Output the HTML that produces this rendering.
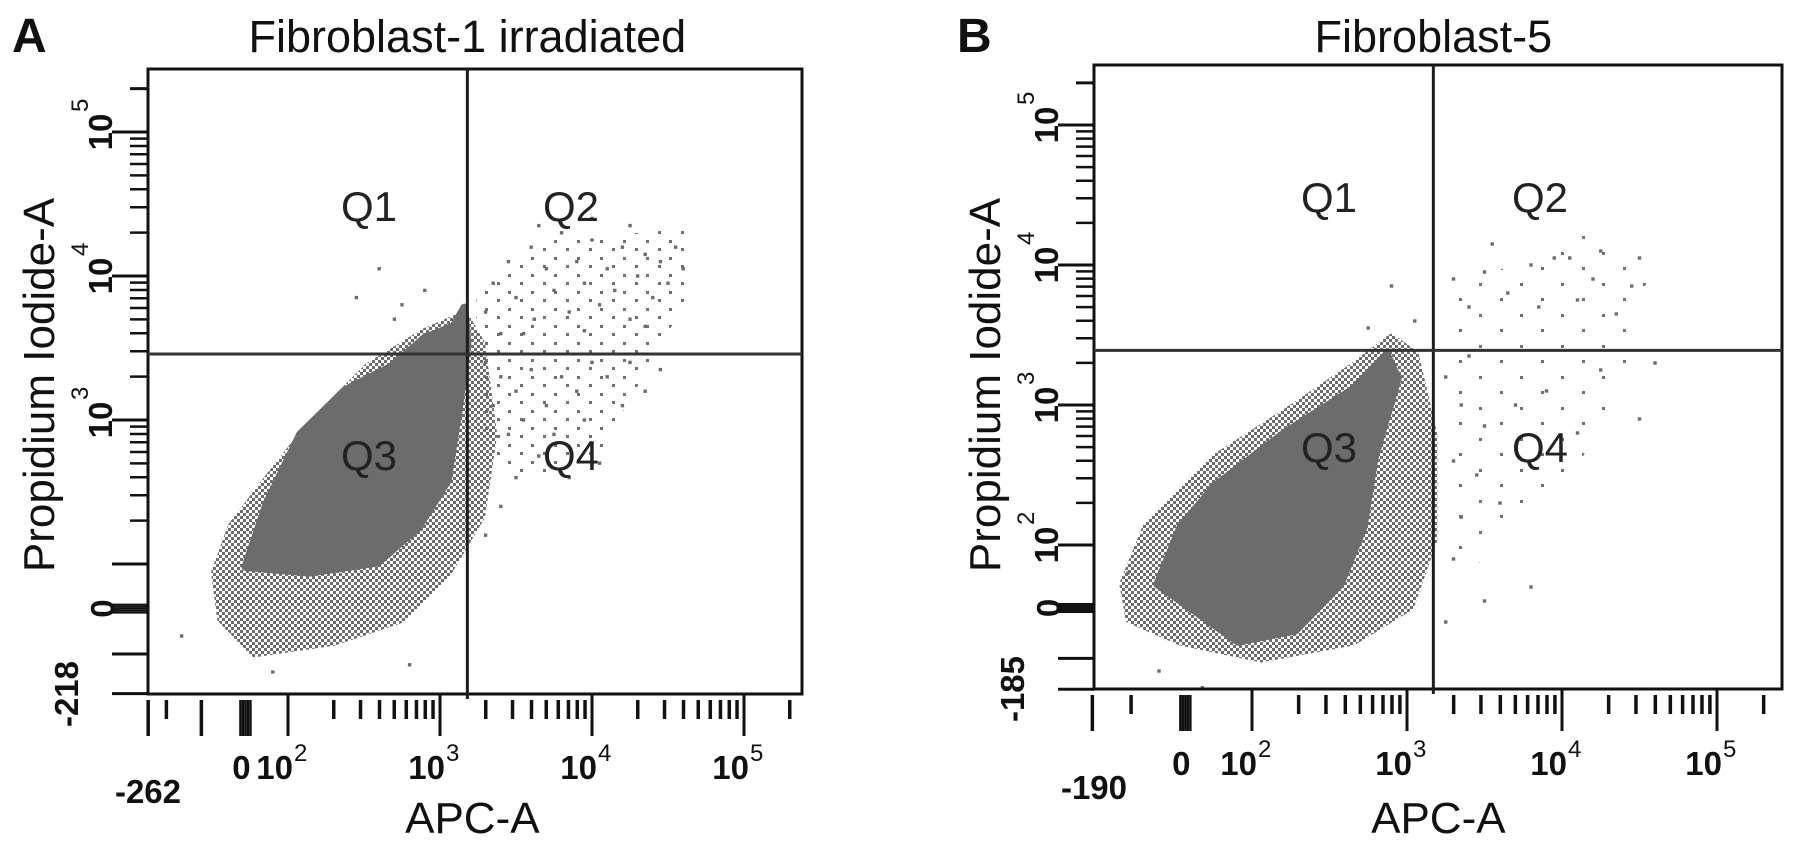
<!DOCTYPE html>
<html><head><meta charset="utf-8"><title>Flow cytometry: Fibroblast-1 irradiated vs Fibroblast-5</title>
<style>
html,body{margin:0;padding:0;background:#fff;}
svg{display:block;font-family:"Liberation Sans",Arial,sans-serif;}
</style></head>
<body>
<svg id="fig" width="1795" height="846" viewBox="0 0 1795 846" xmlns="http://www.w3.org/2000/svg">
<defs>
<pattern id="speck" width="6" height="6" patternUnits="userSpaceOnUse">
<rect x="0" y="0" width="3" height="3" fill="#6c6c6c"/>
<rect x="3" y="3" width="3" height="3" fill="#6c6c6c"/>
</pattern>
<pattern id="sparseA" width="23" height="17" patternUnits="userSpaceOnUse">
<rect x="2" y="2" width="3" height="3" fill="#707070"/>
<rect x="14" y="10" width="3" height="3" fill="#707070"/>
</pattern>
<pattern id="sparseB" width="41" height="31" patternUnits="userSpaceOnUse">
<rect x="3" y="4" width="3" height="3" fill="#707070"/>
<rect x="24" y="19" width="3" height="3" fill="#707070"/>
</pattern>
</defs>
</svg>
<script>
// ---------- Panel A data (log10 decade units) ----------
const A_coreX = [1.72,1.86,2.08,2.38,2.68,2.90,3.09,3.16,3.18,3.12,3.05,2.86,2.59,2.14];
const A_coreY = [1.98,2.42,2.90,3.21,3.37,3.57,3.65,3.78,3.53,3.05,2.58,2.26,2.01,1.94];
const A_haloX = [1.52,1.63,1.86,2.15,2.53,2.90,3.16,3.27,3.35,3.27,3.05,2.75,2.30,1.78,1.56];
const A_haloY = [1.94,2.26,2.58,2.97,3.37,3.61,3.73,3.53,2.90,2.33,1.94,1.62,1.46,1.38,1.62];
const A_cloudX = [3.24,3.65,4.63,4.63,4.33,4.03,3.50,3.24];
const A_cloudY = [3.92,4.24,4.33,3.85,3.29,2.74,2.58,2.90];
const A_ptsX = [3.35,3.45,3.5,3.6,3.62,3.7,3.75,3.8,3.85,3.9,3.95,4.0,4.05,4.1,4.15,4.2,4.25,4.3,4.35,4.4,4.45,4.5,4.55,4.6,3.4,3.55,3.3,3.65,4.0,4.25,3.95,4.35,
  2.9,2.6,2.75,2.45,2.7,
  3.3,3.4,3.35,3.5,3.45,3.6,3.55,3.7,3.8,3.65,3.75,3.9,4.0,4.1,4.2,4.25,4.35,4.45,3.85,3.5,3.4,3.3,4.05,3.95,
  1.3,1.9,2.8];
const A_ptsY = [3.95,4.1,3.85,4.2,3.7,4.05,3.9,4.3,3.75,4.1,3.95,4.25,3.8,4.05,3.9,4.2,3.7,4.0,4.15,3.85,4.1,3.95,4.2,4.05,3.6,3.6,3.75,4.35,4.4,4.35,3.62,3.65,
  3.9,4.05,3.8,3.85,3.7,
  3.4,3.3,3.1,3.2,2.9,3.35,3.0,3.1,3.3,2.75,2.9,3.2,3.4,3.3,3.1,3.4,3.2,3.35,2.6,2.6,2.4,2.2,2.7,3.0,
  1.5,1.25,1.3];
const A_gate = [3.18, 3.458];
// ---------- Panel B data ----------
const B_coreX = [1.91,1.39,1.54,1.76,2.21,2.65,2.87,2.94,2.79,2.72,2.57,2.28];
const B_coreY = [1.31,1.72,2.13,2.42,2.80,3.11,3.36,3.19,2.62,2.13,1.72,1.39];
const B_haloX = [1.17,1.32,1.76,2.21,2.65,2.90,3.05,3.17,3.17,3.02,2.65,2.06,1.54,1.21];
const B_haloY = [1.72,2.13,2.62,2.94,3.27,3.48,3.36,2.79,2.04,1.56,1.31,1.19,1.31,1.47];
const B_cloudX = [3.24,4.12,4.57,4.42,4.05,3.39,3.24];
const B_cloudY = [3.76,4.26,4.01,3.27,2.44,1.80,2.13];
const B_ptsX = [3.3,3.4,3.5,3.55,3.65,3.8,3.85,3.95,4.05,4.1,4.2,4.25,4.35,4.45,4.5,
  2.9,2.75,3.05,
  3.25,3.35,3.4,3.5,3.3,3.45,3.6,3.7,3.9,4.1,4.25,4.5,4.6,3.35,3.3,3.5,3.8,3.25,
  1.2,1.4,1.68];
const B_ptsY = [3.9,3.7,3.95,4.15,3.8,4.0,3.7,4.05,4.05,3.75,3.9,4.1,3.65,3.85,4.05,
  3.85,3.55,3.6,
  3.2,3.0,3.35,2.85,2.6,2.5,2.3,3.0,3.1,2.8,3.25,2.9,3.3,2.2,1.9,1.6,1.7,1.45,
  1.8,1.1,0.98];
const B_gate = [3.17, 3.39];
// ---------- tick data ----------
const A_xLabelDecades = [3,4,5];
const A_yLabelDecades = [3,4,5];
const B_xLabelDecades = [3,4,5];
const B_yLabelDecades = [2,3,4,5];
const minorDecades = [2,3,4];
const A_xSpecial = [1.08,1.20,1.43];   const A_xZero = 1.72;
const A_ySpecial = [1.10,1.375];       const A_yZero = 1.69;
const B_xSpecial = [0.97,1.22];        const B_xZero = 1.57;
const B_ySpecial = [0.97,1.19];        const B_yZero = 1.55;

const SVGNS = "http://www.w3.org/2000/svg";
const svg = document.getElementById('fig');
function mk(tag, attrs, parent){
  const e = document.createElementNS(SVGNS, tag);
  for (const k in attrs) e.setAttribute(k, attrs[k]);
  (parent||svg).appendChild(e);
  return e;
}

function panel(cfg){
  const g = mk('g', {});
  
  
  const X = u => cfg.x3 + (u - 3) * cfg.xd;
  const Y = u => cfg.y3 - (u - 3) * cfg.yd;
  const L = cfg.left, R = cfg.right, T = cfg.top, B = cfg.bottom;

  const lt = mk('text', {x: cfg.letterX, y: 52, 'font-size': 48, 'font-weight': 'bold', fill: '#111'}, g);
  lt.textContent = cfg.letter;
  
  
  const tt = mk('text', {x: X(cfg.gate[0]), y: 52, 'font-size': 45, 'text-anchor': 'middle', fill: '#111'}, g);
  tt.textContent = cfg.title;
  
  

  const cloud = mk('polygon', {points: cfg.cloudX.map((v,i)=>X(v)+','+Y(cfg.cloudY[i])).join(' '), fill: 'url(#' + cfg.cloudPat + ')'}, g);
  
  
  const halo = mk('polygon', {points: cfg.haloX.map((v,i)=>X(v)+','+Y(cfg.haloY[i])).join(' '), fill: 'url(#speck)', stroke: 'url(#speck)', 'stroke-width': 8, 'stroke-linejoin': 'round'}, g);
  
  
  const core = mk('polygon', {points: cfg.coreX.map((v,i)=>X(v)+','+Y(cfg.coreY[i])).join(' '), fill: '#6c6c6c', stroke: '#6c6c6c', 'stroke-width': 8, 'stroke-linejoin': 'round'}, g);
  
  
  cfg.ptsX.forEach((v,i)=>{
    const c = mk('rect', {x: X(v)-1.7, y: Y(cfg.ptsY[i])-1.7, width: 3.4, height: 3.4, fill: '#6c6c6c'}, g);
    
    
  });

  const box = mk('rect', {x: L, y: T, width: R-L, height: B-T, fill: 'none', stroke: '#111', 'stroke-width': 3}, g);
  
  
  const vg = mk('line', {x1: X(cfg.gate[0]), x2: X(cfg.gate[0]), y1: T, y2: B+5, stroke: '#1e1e1e', 'stroke-width': 3}, g);
  
  
  const hg = mk('line', {x1: L, x2: R, y1: Y(cfg.gate[1]), y2: Y(cfg.gate[1]), stroke: '#333', 'stroke-width': 3}, g);
  
  

  const qx = [cfg.q[0], cfg.q[1], cfg.q[0], cfg.q[1]];
  const qy = [cfg.q[2], cfg.q[2], cfg.q[3], cfg.q[3]];
  ['Q1','Q2','Q3','Q4'].forEach((q,i)=>{
    const t = mk('text', {x: qx[i], y: qy[i]+15, 'font-size': 42, 'text-anchor': 'middle', fill: '#222'}, g);
    t.textContent = q;
    
    
  });

  const tk = (x1,y1,x2,y2,w) => {
    const l = mk('line', {x1, y1, x2, y2, stroke: '#111', 'stroke-width': w||3}, g);
    
    
  };
  [2,3,4,5].forEach(d => tk(L-36, Y(d), L, Y(d)));
  minorDecades.forEach(d => { for (let k=2;k<=9;k++) tk(L-18, Y(d+Math.log10(k)), L, Y(d+Math.log10(k)), 2.5); });
  tk(L-18, Y(5+Math.log10(2)), L, Y(5+Math.log10(2)));
  cfg.ySpecial.forEach(u => tk(L-36, Y(u), L, Y(u)));
  for (let k=-2;k<=2;k++) tk(L-36, Y(cfg.yZero)+k*2, L, Y(cfg.yZero)+k*2, 2);
  [2,3,4,5].forEach(d => tk(X(d), B, X(d), B+42));
  minorDecades.forEach(d => { for (let k=2;k<=9;k++) tk(X(d+Math.log10(k)), B+6, X(d+Math.log10(k)), B+25, 3.5); });
  tk(X(5+Math.log10(2)), B+6, X(5+Math.log10(2)), B+25, 3.5);
  cfg.xSpecial.forEach((u,i) => tk(X(u), B+6, X(u), B+(i===1?25:42), 3.5));
  for (let k=-2;k<=2;k++) tk(X(cfg.xZero)+k*2.5, B+6, X(cfg.xZero)+k*2.5, B+42, 2.5);

  const txt = (s, attrs, name) => {
    const t = mk('text', Object.assign({'font-size': 33, 'font-weight': 'bold', fill: '#111'}, attrs), g);
    t.textContent = s;
    
    
    return t;
  };
  const xb = cfg.xLabelBase;
  cfg.xLabels.forEach(d => {
    txt('10', {x: X(d)+5, y: xb, 'text-anchor': 'end'}, 'x-tick-label');
    txt(String(d), {x: X(d)+6, y: xb-18, 'font-size': 24, 'font-weight': 'normal'}, 'x-tick-exponent');
  });
  txt('10', {x: X(2)+5, y: xb, 'text-anchor': 'end'}, 'x-tick-label');
  txt('2', {x: X(2)+6, y: xb-18, 'font-size': 24, 'font-weight': 'normal'}, 'x-tick-exponent');
  txt('0', {x: X(cfg.xZero)-4, y: xb, 'text-anchor': 'middle'}, 'x-tick-label-zero');
  txt(cfg.xMin, {x: L, y: xb+24, 'text-anchor': 'middle'}, 'x-tick-label-min');

  const yb = L - 36;
  const rot = (s, cy, bx, attrs, name) => txt(s, Object.assign({x: 0, y: 0, transform: 'translate(' + bx + ',' + cy + ') rotate(-90)'}, attrs), name);
  cfg.yLabels.forEach(d => {
    rot('10', Y(d), yb, {'text-anchor': 'middle'}, 'y-tick-label');
    rot(String(d), Y(d)-20, yb-24, {'font-size': 24, 'font-weight': 'normal'}, 'y-tick-exponent');
  });
  rot('0', Y(cfg.yZero), yb+2, {'text-anchor': 'middle'}, 'y-tick-label-zero');
  rot(cfg.yMin, B, L-70, {'text-anchor': 'middle'}, 'y-tick-label-min');

  const xt = mk('text', {x: X(cfg.gate[0])+5, y: 833, 'font-size': 44, 'text-anchor': 'middle', fill: '#111'}, g);
  xt.textContent = 'APC-A';
  
  
  const yt = mk('text', {x: 0, y: 0, 'font-size': 44, 'text-anchor': 'middle', fill: '#111', transform: 'translate(' + (L-94) + ',385) rotate(-90)'}, g);
  yt.textContent = 'Propidium Iodide-A';
  
  
}

panel({id:'fibroblast-1', letter:'A', letterX:12, title:'Fibroblast-1 irradiated',
  left:148, right:802, top:69, bottom:694, x3:440, xd:152, y3:420, yd:144,
  coreX:A_coreX, coreY:A_coreY, haloX:A_haloX, haloY:A_haloY, ptsX:A_ptsX, ptsY:A_ptsY, gate:A_gate,
  cloudX:A_cloudX, cloudY:A_cloudY, cloudPat:'sparseA',
  q:[369,571,206,455], xLabels:A_xLabelDecades, yLabels:A_yLabelDecades,
  xSpecial:A_xSpecial, xZero:A_xZero, ySpecial:A_ySpecial, yZero:A_yZero,
  xMin:'-262', yMin:'-218', xLabelBase:779});
panel({id:'fibroblast-5', letter:'B', letterX:957, title:'Fibroblast-5',
  left:1094, right:1782, top:65, bottom:689, x3:1407, xd:155, y3:405, yd:140,
  coreX:B_coreX, coreY:B_coreY, haloX:B_haloX, haloY:B_haloY, ptsX:B_ptsX, ptsY:B_ptsY, gate:B_gate,
  cloudX:B_cloudX, cloudY:B_cloudY, cloudPat:'sparseB',
  q:[1329,1540,197,447], xLabels:B_xLabelDecades, yLabels:B_yLabelDecades,
  xSpecial:B_xSpecial, xZero:B_xZero, ySpecial:B_ySpecial, yZero:B_yZero,
  xMin:'-190', yMin:'-185', xLabelBase:775});
</script>
</body></html>
